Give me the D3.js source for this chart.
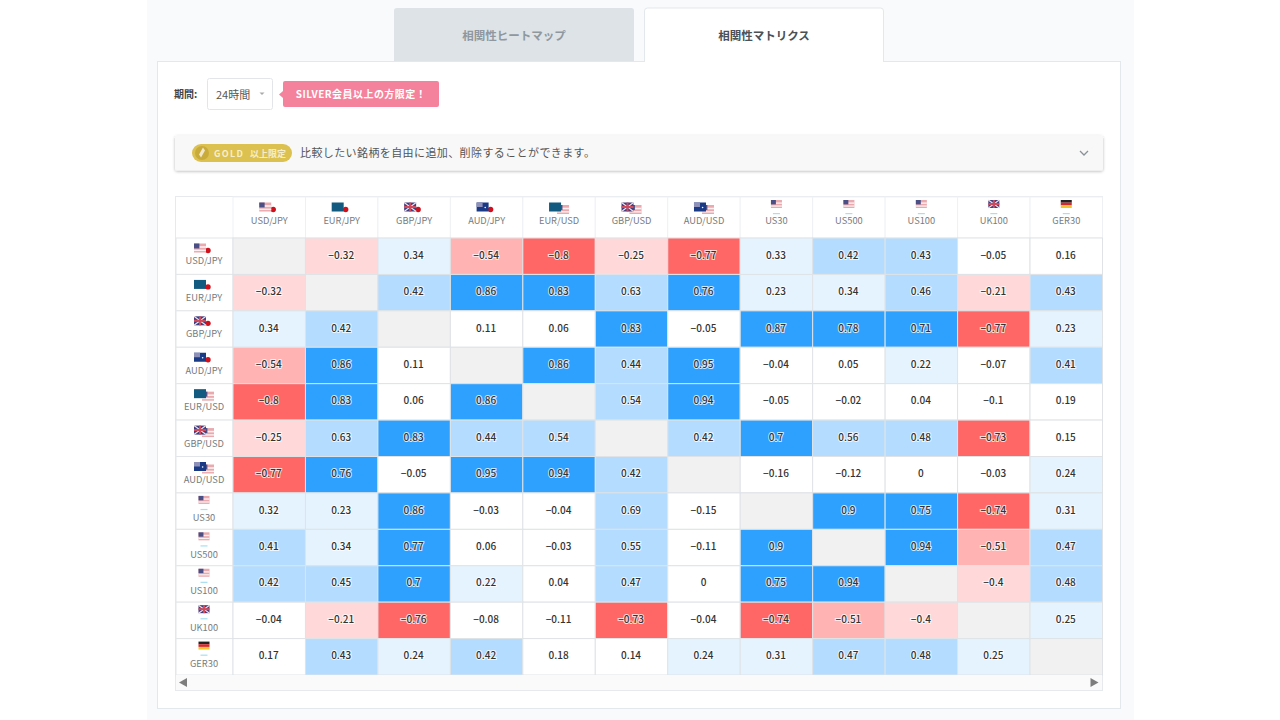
<!DOCTYPE html>
<html lang="ja">
<head>
<meta charset="utf-8">
<script src="https://cdn.jsdelivr.net/npm/d3@7"></script>
<style>
  html, body { margin: 0; padding: 0; background: #fff; overflow: hidden; }
  svg { display: block; }
  text { font-family: "Noto Sans CJK JP", "Noto Sans", sans-serif; }
  .axis path { display: none; }
  .axis text { font-size: 9.3px; fill: #777c80; font-family: "Noto Sans CJK JP", "Noto Sans", sans-serif; }
  .val { font-size: 10px; font-weight: 500; fill: #333; text-anchor: middle; paint-order: stroke; stroke: #fff; stroke-width: 2px; stroke-opacity: 0.75; }
</style>
</head>
<body>
<div id="chart"></div>
<script>
const instruments = ["USD/JPY", "EUR/JPY", "GBP/JPY", "AUD/JPY", "EUR/USD", "GBP/USD", "AUD/USD", "US30", "US500", "US100", "UK100", "GER30"];

const rowUSDJPY = [null, -0.32, 0.34, -0.54, -0.8, -0.25, -0.77, 0.33, 0.42, 0.43, -0.05, 0.16];
const rowEURJPY = [-0.32, null, 0.42, 0.86, 0.83, 0.63, 0.76, 0.23, 0.34, 0.46, -0.21, 0.43];
const rowGBPJPY = [0.34, 0.42, null, 0.11, 0.06, 0.83, -0.05, 0.87, 0.78, 0.71, -0.77, 0.23];
const rowAUDJPY = [-0.54, 0.86, 0.11, null, 0.86, 0.44, 0.95, -0.04, 0.05, 0.22, -0.07, 0.41];
const rowEURUSD = [-0.8, 0.83, 0.06, 0.86, null, 0.54, 0.94, -0.05, -0.02, 0.04, -0.1, 0.19];
const rowGBPUSD = [-0.25, 0.63, 0.83, 0.44, 0.54, null, 0.42, 0.7, 0.56, 0.48, -0.73, 0.15];
const rowAUDUSD = [-0.77, 0.76, -0.05, 0.95, 0.94, 0.42, null, -0.16, -0.12, 0, -0.03, 0.24];
const rowUS30 = [0.32, 0.23, 0.86, -0.03, -0.04, 0.69, -0.15, null, 0.9, 0.75, -0.74, 0.31];
const rowUS500 = [0.41, 0.34, 0.77, 0.06, -0.03, 0.55, -0.11, 0.9, null, 0.94, -0.51, 0.47];
const rowUS100 = [0.42, 0.45, 0.7, 0.22, 0.04, 0.47, 0, 0.75, 0.94, null, -0.4, 0.48];
const rowUK100 = [-0.04, -0.21, -0.76, -0.08, -0.11, -0.73, -0.04, -0.74, -0.51, -0.4, null, 0.25];
const rowGER30 = [0.17, 0.43, 0.24, 0.42, 0.18, 0.14, 0.24, 0.31, 0.47, 0.48, 0.25, null];

const matrix = [rowUSDJPY, rowEURJPY, rowGBPJPY, rowAUDJPY, rowEURUSD, rowGBPUSD, rowAUDUSD, rowUS30, rowUS500, rowUS100, rowUK100, rowGER30];

const indexFlags = { US30: "USD", US500: "USD", US100: "USD", UK100: "GBP", GER30: "DE" };

const svg = d3.select("#chart").append("svg").attr("width", 1280).attr("height", 720);

// page background, panel and tabs
svg.append("rect").attr("x", 147).attr("width", 987).attr("height", 720).attr("fill", "#f8fafc");
svg.append("rect").attr("x", 157.5).attr("y", 61.5).attr("width", 963).attr("height", 647).attr("fill", "#fff").attr("stroke", "#e3e8ec");
svg.append("path").attr("d", "M394 61V11a3 3 0 0 1 3-3H631a3 3 0 0 1 3 3V61Z").attr("fill", "#dde3e6");
svg.append("path").attr("d", "M644.5 62V11a3 3 0 0 1 3-3H880.5a3 3 0 0 1 3 3V62").attr("fill", "#fff").attr("stroke", "#e3e8ec");

svg.append("text").attr("x", 514).attr("y", 39.5).attr("text-anchor", "middle")
  .attr("font-size", 11.5).attr("font-weight", 700).attr("fill", "#8f979f").text("相関性ヒートマップ");
svg.append("text").attr("x", 764).attr("y", 39.5).attr("text-anchor", "middle")
  .attr("font-size", 11.5).attr("font-weight", 700).attr("fill", "#4a5157").text("相関性マトリクス");

// period select
svg.append("text").attr("x", 174).attr("y", 98).attr("font-size", 10).attr("font-weight", 700).attr("fill", "#444").text("期間:");
svg.append("rect").attr("x", 207.5).attr("y", 78.5).attr("width", 65).attr("height", 31).attr("rx", 2).attr("fill", "#fff").attr("stroke", "#e3e6e8");
svg.append("text").attr("x", 216).attr("y", 99).attr("font-size", 11).attr("fill", "#555").text("24時間");
svg.append("path").attr("d", "M259.5 92.5h5l-2.5 2.5Z").attr("fill", "#aaa");

// pink notice
svg.append("path").attr("d", "M283 91l-4 3.5 4 3.5Z").attr("fill", "#f5829c");
svg.append("rect").attr("x", 283).attr("y", 81).attr("width", 156).attr("height", 26).attr("rx", 2).attr("fill", "#f5829c");
svg.append("text").attr("x", 361).attr("y", 98).attr("text-anchor", "middle")
  .attr("font-size", 10).attr("font-weight", 700).attr("letter-spacing", 0.45).attr("fill", "#fff").text("SILVER会員以上の方限定！");

// gold bar
const blur = svg.append("defs").append("filter").attr("id", "shadow").attr("x", "-5%").attr("y", "-30%").attr("width", "110%").attr("height", "170%");
blur.append("feDropShadow").attr("dx", 0).attr("dy", 1).attr("stdDeviation", 1.5).attr("flood-color", "#000").attr("flood-opacity", 0.28);
svg.append("rect").attr("x", 175).attr("y", 135.5).attr("width", 928).attr("height", 35).attr("rx", 2).attr("fill", "#f8f8f8").attr("filter", "url(#shadow)");
svg.append("rect").attr("x", 192).attr("y", 144).attr("width", 100).attr("height", 18).attr("rx", 9).attr("fill", "#dcc050");
svg.append("circle").attr("cx", 202).attr("cy", 153).attr("r", 7).attr("fill", "#c9ab3c");
svg.append("path").attr("d", "M203 147.5l2 3-4 7-2-3Z").attr("fill", "#f0e8c8");
svg.append("text").attr("x", 214).attr("y", 156.5).attr("font-size", 9).attr("font-weight", 700).attr("letter-spacing", 1.3).attr("fill", "#f6eec8").text("GOLD");
svg.append("text").attr("x", 250).attr("y", 156.5).attr("font-size", 9).attr("font-weight", 700).attr("fill", "#f6eec8").text("以上限定");
svg.append("text").attr("x", 300).attr("y", 157).attr("font-size", 11).attr("letter-spacing", 0.4).attr("fill", "#555").text("比較したい銘柄を自由に追加、削除することができます。");
svg.append("path").attr("d", "M1080 151l4 4 4-4").attr("fill", "none").attr("stroke", "#8a9299").attr("stroke-width", 1.3);

// matrix
const x = d3.scaleBand().domain(instruments).range([233, 1102.5]);
const y = d3.scaleBand().domain(instruments).range([238, 675]);

const color = d3.scaleThreshold()
  .domain([-0.7, -0.5, -0.2, 0.2, 0.4, 0.7])
  .range(["#ff6666", "#ffb3b3", "#ffd9d9", "#ffffff", "#e5f3ff", "#b3dcff", "#2ea1ff"]);

const fmt = d3.format(".2~f");

svg.append("rect").attr("x", 175.5).attr("y", 196.5).attr("width", 927).attr("height", 494).attr("fill", "#fff").attr("stroke", "#e6eaec");

const cells = matrix.flatMap((row, i) => row.map((v, j) => ({ row: instruments[i], col: instruments[j], v })));

svg.selectAll(".head")
  .data(instruments)
  .enter()
  .append("rect")
  .attr("class", "head")
  .attr("x", (d) => x(d))
  .attr("y", 197)
  .attr("width", x.bandwidth())
  .attr("height", 41)
  .attr("fill", "#fff")
  .attr("stroke", "#eef1f3");

svg.selectAll(".rowhead")
  .data(instruments)
  .enter()
  .append("rect")
  .attr("class", "rowhead")
  .attr("x", 176)
  .attr("y", (d) => y(d))
  .attr("width", 57)
  .attr("height", y.bandwidth())
  .attr("fill", "#fff")
  .attr("stroke", "#e3e6e8");

svg.selectAll(".cell")
  .data(cells)
  .enter()
  .append("rect")
  .attr("class", "cell")
  .attr("x", (d) => x(d.col))
  .attr("y", (d) => y(d.row))
  .attr("width", x.bandwidth())
  .attr("height", y.bandwidth())
  .attr("fill", (d) => (d.v === null ? "#f1f1f1" : color(d.v)))
  .attr("stroke", "#dfe3e6");

svg.selectAll(".val")
  .data(cells.filter((d) => d.v !== null))
  .enter()
  .append("text")
  .attr("class", "val")
  .attr("x", (d) => x(d.col) + x.bandwidth() / 2 - 0.5)
  .attr("y", (d) => y(d.row) + y.bandwidth() / 2)
  .attr("dy", "0.25em")
  .text((d) => fmt(d.v));

// axis labels
svg.append("g")
  .attr("class", "axis")
  .attr("transform", "translate(0,221)")
  .call(d3.axisTop(x).tickSize(0))
  .selectAll("text")
  .attr("y", 0)
  .attr("dy", "0.35em");

svg.append("g")
  .attr("class", "axis")
  .attr("transform", "translate(204,0)")
  .call(d3.axisLeft(y).tickSize(0))
  .selectAll("text")
  .attr("x", 0)
  .attr("y", (d) => (indexFlags[d] ? 7 : 5))
  .attr("dy", "0.35em")
  .attr("text-anchor", "middle");

// flags
function flag(g, code, fx, fy, w, h) {
  const f = g.append("g").attr("transform", `translate(${fx},${fy})`);
  const box = (bx, by, bw, bh, fill) => f.append("rect").attr("x", bx).attr("y", by).attr("width", bw).attr("height", bh).attr("fill", fill);
  if (code === "USD") {
    box(0, 0, w, h, "#e9a9ae");
    box(0, h * 0.3, w, h * 0.18, "#fbeff0");
    box(0, h * 0.68, w, h * 0.16, "#fbeff0");
    box(0, 0, w * 0.45, h * 0.55, "#4a4f86");
  } else if (code === "JPY") {
    box(0, 0, w, h, "#fff");
    f.append("circle").attr("cx", w / 2).attr("cy", h / 2).attr("r", h * 0.3).attr("fill", "#d0101c");
  } else if (code === "EUR") {
    box(0, 0, w, h, "#135a80");
  } else if (code === "GBP") {
    box(0, 0, w, h, "#3d3f80");
    f.append("path").attr("d", `M0 0L${w} ${h}M${w} 0L0 ${h}`).attr("stroke", "#f3dfe3").attr("stroke-width", 1.2);
    box(w / 2 - 1, 0, 2, h, "#d04a5c");
    box(0, h / 2 - 1, w, 2, "#d04a5c");
  } else if (code === "AUD") {
    box(0, 0, w, h, "#1b3a86");
    box(0, 0, w * 0.5, h * 0.5, "#8f90b8");
    f.append("circle").attr("cx", w * 0.72).attr("cy", h * 0.55).attr("r", 0.8).attr("fill", "#fff");
  } else if (code === "DE") {
    box(0, 0, w, h / 3, "#222");
    box(0, h / 3, w, h / 3, "#d8262c");
    box(0, (2 * h) / 3, w, h / 3, "#f2c52e");
  }
}

function drawFlags(name, cx, top) {
  const g = svg.append("g");
  if (indexFlags[name]) {
    flag(g, indexFlags[name], cx - 5.5, top - 4, 11, 8);
    g.append("rect").attr("x", cx - 3.5).attr("y", top + 9).attr("width", 7).attr("height", 1.2).attr("fill", "#a8dff0");
  } else {
    const [a, b] = name.split("/");
    // second flag sits under and to the right of the first
    flag(g, b, cx - 2, top + 1, 12, 9);
    flag(g, a, cx - 10, top - 1.5, 12, 9);
  }
}

instruments.forEach((d) => {
  drawFlags(d, x(d) + x.bandwidth() / 2, 204);
  drawFlags(d, 204, y(d) + 7);
});

// scrollbar
svg.append("rect").attr("x", 176).attr("y", 675).attr("width", 926).attr("height", 15).attr("fill", "#fafafa");
svg.append("path").attr("d", "M179 682.5l8-4.5v9Z").attr("fill", "#7d7d7d");
svg.append("path").attr("d", "M1098.5 682.5l-8-4.5v9Z").attr("fill", "#7d7d7d");
</script>
</body>
</html>
